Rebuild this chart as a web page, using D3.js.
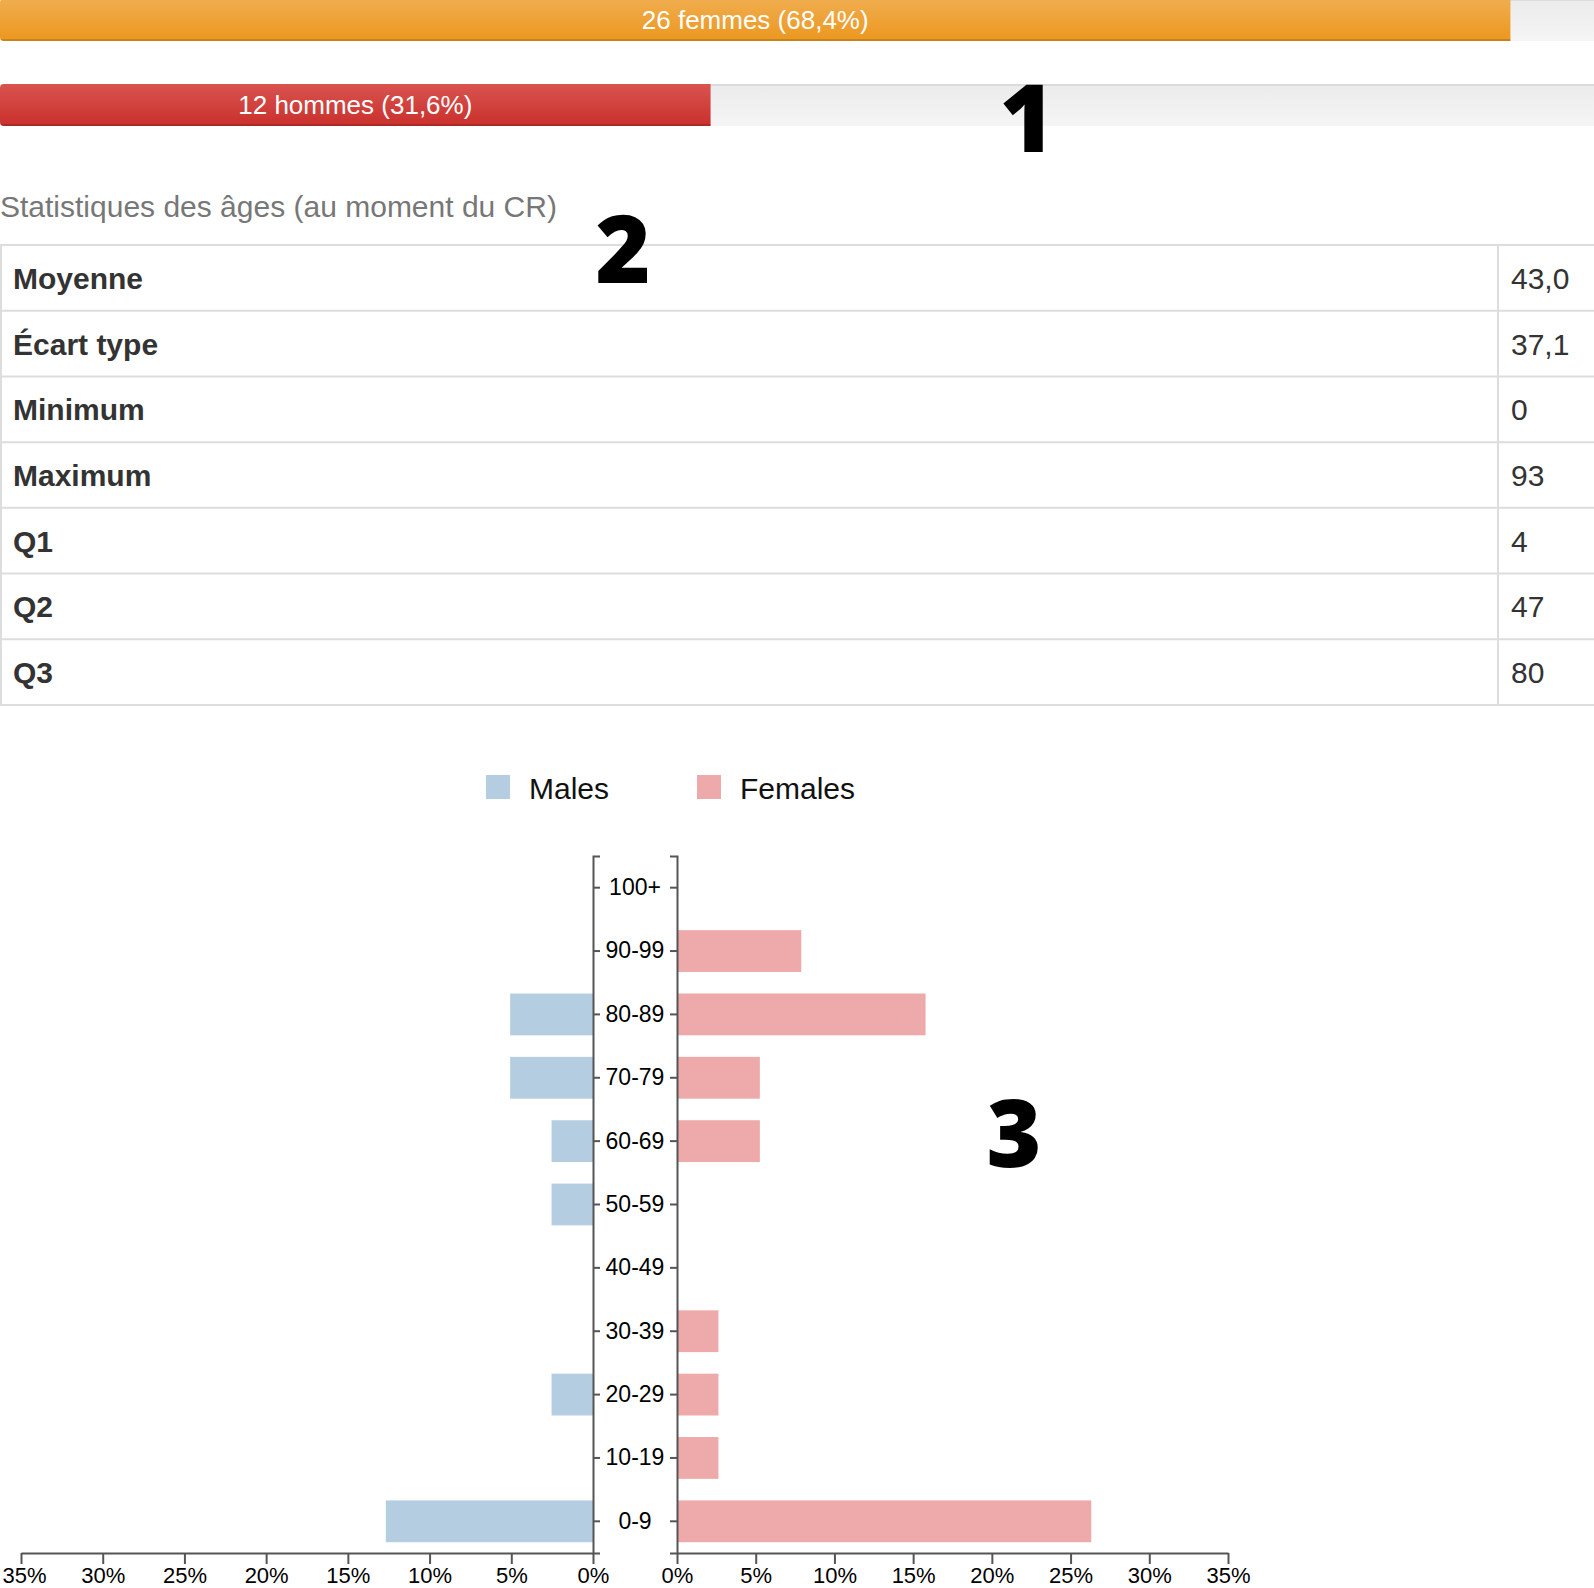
<!DOCTYPE html>
<html>
<head>
<meta charset="utf-8">
<script src="https://d3js.org/d3.v7.min.js"></script>
<style>
  body { margin: 0; background: #fff; overflow: hidden; }
  svg { display: block; font-family: "Liberation Sans", Arial, sans-serif; }
  .axis path, .axis line { stroke: #555; stroke-width: 2px; fill: none; }
  .axis text { font-size: 22px; fill: #000; font-family: "Liberation Sans", Arial, sans-serif; }
  .yaxis text { font-size: 23px; }
  .big { font-family: "Open Sans", "DejaVu Sans", sans-serif; font-weight: 800; font-size: 94px; fill: #000; }
</style>
</head>
<body>
<div id="chart"></div>
<script>
// repartition par sexe
var sexLabels = ["26 femmes (68,4%)", "12 hommes (31,6%)"];
var sexCounts = [26, 12];
var sexTotal = 38;

// statistiques des ages
var statLabels = ["Moyenne", "Écart type", "Minimum", "Maximum", "Q1", "Q2", "Q3"];
var statValues = ["43,0", "37,1", "0", "93", "4", "47", "80"];

// pyramide des ages (effectifs)
var ageGroups = ["0-9", "10-19", "20-29", "30-39", "40-49", "50-59", "60-69", "70-79", "80-89", "90-99", "100+"];
var maleCounts = [5, 0, 1, 0, 0, 1, 1, 2, 2, 0, 0];
var femaleCounts = [10, 1, 1, 1, 0, 0, 2, 2, 6, 3, 0];
var pctTicks = [0, 0.05, 0.10, 0.15, 0.20, 0.25, 0.30, 0.35];

var W = 1594, H = 1588;

var svg = d3.select("#chart").append("svg")
    .attr("width", W)
    .attr("height", H);

var defs = svg.append("defs");
function grad(id, c1, c2) {
    var g = defs.append("linearGradient").attr("id", id)
        .attr("x1", 0).attr("y1", 0).attr("x2", 0).attr("y2", 1);
    g.append("stop").attr("offset", "0%").attr("stop-color", c1);
    g.append("stop").attr("offset", "100%").attr("stop-color", c2);
}
grad("gTrack", "#ebebeb", "#f5f5f5");
grad("gWarn", "#f0ad4e", "#ec971f");
grad("gDanger", "#d9534f", "#c9302c");

// ---- progress bars ----
var barFills = ["url(#gWarn)", "url(#gDanger)"];
var progY = [-1, 84], progH = 42;
var xProg = d3.scaleLinear().domain([0, 1]).range([25, 2196]);

sexCounts.forEach(function(c, i) {
    var cp = defs.append("clipPath").attr("id", "clip" + i);
    cp.append("rect").attr("x", 0).attr("y", progY[i]).attr("width", W + 20)
        .attr("height", progH).attr("rx", 4);
    var g = svg.append("g").attr("clip-path", "url(#clip" + i + ")");
    g.append("rect").attr("x", 0).attr("y", progY[i]).attr("width", W + 20)
        .attr("height", progH).attr("fill", "url(#gTrack)");
    g.append("rect").attr("x", 0).attr("y", progY[i]).attr("width", W + 20)
        .attr("height", 2).attr("fill", "rgba(0,0,0,0.07)");
    var bw = xProg(c / sexTotal);
    g.append("rect").attr("x", 0).attr("y", progY[i]).attr("width", bw)
        .attr("height", progH).attr("fill", barFills[i]);
    g.append("rect").attr("x", 0).attr("y", progY[i] + progH - 2).attr("width", bw)
        .attr("height", 2).attr("fill", "rgba(0,0,0,0.15)");
    g.append("text").attr("x", bw / 2).attr("y", progY[i] + progH / 2 + 9)
        .attr("text-anchor", "middle").attr("fill", "#fff")
        .style("font-size", "26px").text(sexLabels[i]);
});

// ---- stats table ----
svg.append("text").attr("x", 0).attr("y", 217)
    .attr("fill", "#777").style("font-size", "30px")
    .text("Statistiques des âges (au moment du CR)");

var rowY = d3.scaleLinear().domain([0, statLabels.length]).range([245, 705]);
var colX = 1498;

for (var i = 0; i <= statLabels.length; i++) {
    svg.append("line").attr("x1", 0).attr("x2", W)
        .attr("y1", rowY(i)).attr("y2", rowY(i))
        .attr("stroke", "#ddd").attr("stroke-width", 2);
}
[1, colX].forEach(function(x) {
    svg.append("line").attr("x1", x).attr("x2", x)
        .attr("y1", rowY(0)).attr("y2", rowY(statLabels.length))
        .attr("stroke", "#ddd").attr("stroke-width", 2);
});

var rows = svg.append("g").selectAll("g").data(statLabels).enter().append("g");
rows.append("text")
    .attr("x", 13)
    .attr("y", function(d, i) { return (rowY(i) + rowY(i + 1)) / 2 + 11; })
    .attr("fill", "#333").style("font-size", "30px").style("font-weight", "bold")
    .text(function(d) { return d; });
rows.append("text")
    .attr("x", colX + 13)
    .attr("y", function(d, i) { return (rowY(i) + rowY(i + 1)) / 2 + 11; })
    .attr("fill", "#333").style("font-size", "30px")
    .text(function(d, i) { return statValues[i]; });

// ---- pyramid ----
var maleColor = "#b5cde1", femaleColor = "#eeaaaa";
var yTop = 856, yBottom = 1553;
var leftX = 593, rightX = 677;

var legend = [["Males", maleColor, 486], ["Females", femaleColor, 697]];
legend.forEach(function(l) {
    svg.append("rect").attr("x", l[2]).attr("y", 775).attr("width", 24).attr("height", 24).attr("fill", l[1]);
    svg.append("text").attr("x", l[2] + 43).attr("y", 799).attr("fill", "#111")
        .style("font-size", "30px").text(l[0]);
});

var y = d3.scaleBand().domain(ageGroups).range([yBottom, yTop])
    .paddingInner(0.34).paddingOuter(0.17);
var xBar = d3.scaleLinear().domain([0, 0.35]).range([0, 551]);
var xLeft = d3.scaleLinear().domain([0, 0.35]).range([leftX, leftX - 572]);
var xRight = d3.scaleLinear().domain([0, 0.35]).range([rightX, rightX + 551]);

svg.append("g").selectAll("rect").data(maleCounts).enter().append("rect")
    .attr("x", function(d) { return leftX - xBar(d / sexTotal); })
    .attr("y", function(d, i) { return y(ageGroups[i]); })
    .attr("width", function(d) { return xBar(d / sexTotal); })
    .attr("height", y.bandwidth())
    .attr("fill", maleColor);

svg.append("g").selectAll("rect").data(femaleCounts).enter().append("rect")
    .attr("x", rightX)
    .attr("y", function(d, i) { return y(ageGroups[i]); })
    .attr("width", function(d) { return xBar(d / sexTotal); })
    .attr("height", y.bandwidth())
    .attr("fill", femaleColor);

var yl = svg.append("g").attr("class", "axis yaxis")
    .attr("transform", "translate(" + leftX + ",0)")
    .call(d3.axisRight(y).tickSize(7).tickSizeOuter(7));
yl.selectAll("text").attr("x", (rightX - leftX) / 2).attr("text-anchor", "middle");

svg.append("g").attr("class", "axis yaxis")
    .attr("transform", "translate(" + rightX + ",0)")
    .call(d3.axisLeft(y).tickSize(7).tickSizeOuter(7).tickFormat(""));

var xl = svg.append("g").attr("class", "axis")
    .attr("transform", "translate(0," + yBottom + ")")
    .call(d3.axisBottom(xLeft).tickValues(pctTicks).tickFormat(d3.format(".0%"))
        .tickSize(11).tickSizeOuter(0).tickPadding(3));
// keep the outermost label inside the page
xl.selectAll(".tick text").filter(function(d) { return d === 0.35; }).attr("dx", 3);

svg.append("g").attr("class", "axis")
    .attr("transform", "translate(0," + yBottom + ")")
    .call(d3.axisBottom(xRight).tickValues(pctTicks).tickFormat(d3.format(".0%"))
        .tickSize(11).tickSizeOuter(0).tickPadding(3));

// annotations
svg.append("text").attr("class", "big").attr("x", 1027).attr("y", 152).attr("text-anchor", "middle").text("1");
svg.append("text").attr("class", "big").attr("x", 623).attr("y", 283).attr("text-anchor", "middle").text("2");
svg.append("text").attr("class", "big").attr("x", 1014).attr("y", 1167).attr("text-anchor", "middle").text("3");
</script>
</body>
</html>
